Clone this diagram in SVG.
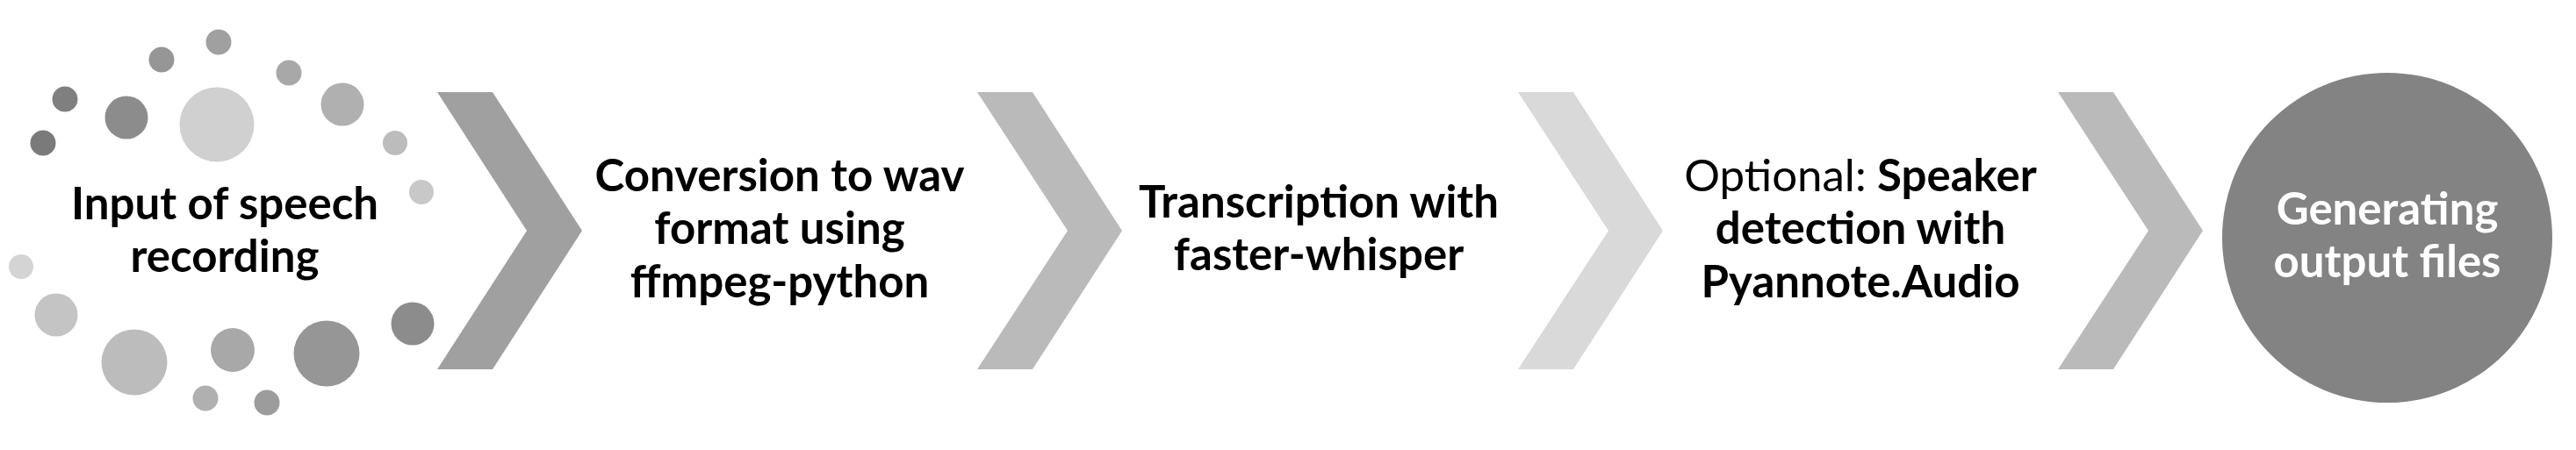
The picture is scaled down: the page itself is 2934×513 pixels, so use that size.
<svg xmlns="http://www.w3.org/2000/svg" width="2934" height="513" viewBox="0 0 2934 513">
<style>
.t{font-family:Lato,"Liberation Sans",sans-serif;font-size:51px;font-weight:bold;fill:#000;text-anchor:middle}
.r{font-weight:normal}
.w{fill:#fff}
</style>
<rect width="2934" height="513" fill="#fff"/>
<g id="input">
<circle cx="249" cy="48" r="14.5" fill="#a0a0a0"/>
<circle cx="184" cy="68" r="14.5" fill="#969696"/>
<circle cx="329" cy="83" r="14.5" fill="#a8a8a8"/>
<circle cx="74" cy="113" r="14.5" fill="#7f7f7f"/>
<circle cx="144" cy="134" r="24.5" fill="#8c8c8c"/>
<circle cx="247" cy="142" r="42.5" fill="#d0d0d0"/>
<circle cx="390" cy="119" r="24.5" fill="#b0b0b0"/>
<circle cx="49" cy="163" r="14.5" fill="#7a7a7a"/>
<circle cx="450" cy="163" r="14" fill="#bcbcbc"/>
<circle cx="480" cy="219" r="14" fill="#c8c8c8"/>
<circle cx="24" cy="304" r="14" fill="#d4d4d4"/>
<circle cx="64" cy="359" r="24.5" fill="#c4c4c4"/>
<circle cx="153" cy="413" r="37.5" fill="#bcbcbc"/>
<circle cx="265" cy="399" r="25" fill="#a8a8a8"/>
<circle cx="372" cy="403" r="37.5" fill="#969696"/>
<circle cx="470" cy="369" r="24.5" fill="#8c8c8c"/>
<circle cx="234" cy="454" r="14.5" fill="#b0b0b0"/>
<circle cx="304" cy="459" r="14.5" fill="#9c9c9c"/>
<text class="t" x="256" y="250">Input of speech</text>
<text class="t" x="256" y="310">recording</text>
</g>
<g id="connectors">
<polygon points="498,105 561,105 663,263 561,421 498,421 600,263" fill="#a0a0a0"/>
<polygon points="1113,105 1176,105 1278,263 1176,421 1113,421 1216,263" fill="#bababa"/>
<polygon points="1729,105 1792,105 1894,263 1792,421 1729,421 1832,263" fill="#d9d9d9"/>
<polygon points="2344,105 2407,105 2509,263 2407,421 2344,421 2447,263" fill="#bababa"/>
</g>
<g id="conversion">
<text class="t" x="888" y="218">Conversion to wav</text>
<text class="t" x="888" y="278">format using</text>
<text class="t" x="888" y="339">ffmpeg-python</text>
</g>
<g id="transcription">
<text class="t" x="1502" y="248">Transcription with</text>
<text class="t" x="1502" y="308">faster-whisper</text>
</g>
<g id="speaker">
<text class="t" x="2119" y="218"><tspan class="r">Optional:</tspan> Speaker</text>
<text class="t" x="2119" y="278">detection with</text>
<text class="t" x="2119" y="339">Pyannote.Audio</text>
</g>
<g id="output">
<circle cx="2719" cy="271" r="188" fill="#838383"/>
<text class="t w" x="2719" y="256">Generating</text>
<text class="t w" x="2719" y="316">output files</text>
</g>
</svg>
